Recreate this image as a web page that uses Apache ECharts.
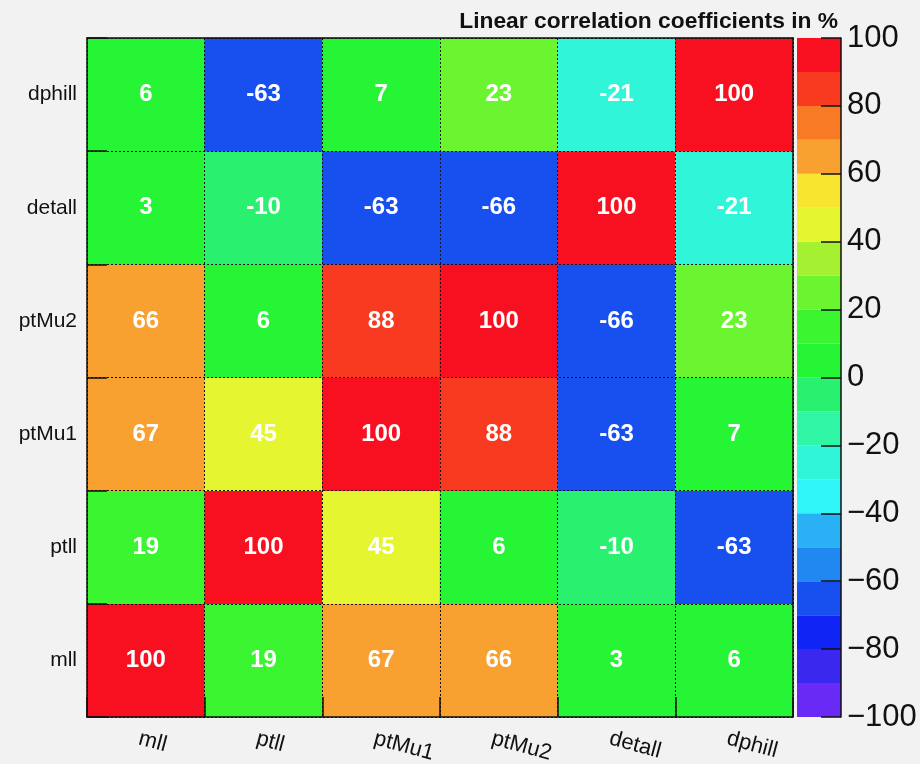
<!DOCTYPE html>
<html>
<head>
<meta charset="utf-8">
<script src="https://cdn.jsdelivr.net/npm/echarts@6/dist/echarts.min.js"></script>
<style>
  html, body { margin: 0; padding: 0; background: #f2f2f2; }
  #chart { width: 920px; height: 764px; }
</style>
</head>
<body>
<div id="chart"></div>
<script>
// Input variables (x from left to right, y from bottom to top)
const variables = ['mll', 'ptll', 'ptMu1', 'ptMu2', 'detall', 'dphill'];

// Linear correlation coefficients in %, one row per variable
const corrMll    = [100, 19, 67, 66, 3, 6];
const corrPtll   = [19, 100, 45, 6, -10, -63];
const corrPtMu1  = [67, 45, 100, 88, -63, 7];
const corrPtMu2  = [66, 6, 88, 100, -66, 23];
const corrDetall = [3, -10, -63, -66, 100, -21];
const corrDphill = [6, -63, 7, 23, -21, 100];
const corrRows = [corrMll, corrPtll, corrPtMu1, corrPtMu2, corrDetall, corrDphill];

// Palette: 20 contour bands from -100 to 100 (lower edges, colours bottom to top)
const bandLows = [-100, -90, -80, -70, -60, -50, -40, -30, -20, -10, 0, 10, 20, 30, 40, 50, 60, 70, 80, 90];
const bandColors = ['#6a2af5', '#3a28ee', '#1025f5', '#1850f0', '#2088f0', '#2ab0f5', '#30f5f8', '#30f5d8',
                    '#30f5a5', '#2af070', '#25f535', '#3af530', '#6af530', '#a5f030', '#e5f530', '#f8e530',
                    '#f8a030', '#f87a25', '#f83a20', '#f81020'];
const bandWidth = 10;

// Colour bar tick values
const scaleTicks = [-100, -80, -60, -40, -20, 0, 20, 40, 60, 80, 100];

const FONT = '"Liberation Sans", Arial, Helvetica, sans-serif';

const heatData = [];
corrRows.forEach((row, y) => row.forEach((v, x) => heatData.push([x, y, v])));

const pieces = bandLows.map((lo, i) => {
  const p = { gte: lo, color: bandColors[i] };
  if (i === bandLows.length - 1) p.lte = lo + bandWidth; else p.lt = lo + bandWidth;
  return p;
});

const barData = bandLows.map((lo, i) => ({ value: [lo, lo + bandWidth], itemStyle: { color: bandColors[i] } }));

const chart = echarts.init(document.getElementById('chart'), null, { renderer: 'canvas' });

const plotTop = 38, plotHeight = 679;

chart.setOption({
  backgroundColor: '#f2f2f2',
  animation: false,
  title: {
    text: 'Linear correlation coefficients in %',
    right: 82,
    top: 10,
    padding: 0,
    textStyle: { fontFamily: FONT, fontSize: 22.8, fontWeight: 'bold', color: '#111' }
  },
  grid: [
    { left: 87, top: plotTop, width: 706, height: plotHeight, outerBoundsMode: 'none', containLabel: false },
    { left: 797, top: plotTop, width: 44, height: plotHeight, outerBoundsMode: 'none', containLabel: false }
  ],
  visualMap: {
    type: 'piecewise',
    show: false,
    seriesIndex: 0,
    dimension: 2,
    pieces: pieces
  },
  xAxis: [
    {
      type: 'category', gridIndex: 0, data: variables, position: 'bottom', z: 5,
      axisLine: { show: true, lineStyle: { color: '#111', width: 1.5 } },
      axisTick: { show: true, inside: true, length: 20, lineStyle: { color: '#111', width: 1.5 } },
      splitLine: { show: true, lineStyle: { color: '#111', width: 1, type: [2, 2] } },
      axisLabel: {
        rotate: -15, align: 'left', verticalAlign: 'middle', margin: 23,
        padding: [0, 0, 0, -7],
        fontFamily: FONT, fontSize: 22, color: '#111'
      }
    },
    {
      type: 'category', gridIndex: 0, data: variables, position: 'top', z: 5,
      axisLine: { show: true, lineStyle: { color: '#111', width: 1.5 } },
      axisTick: { show: false }, axisLabel: { show: false }, splitLine: { show: false }
    },
    {
      type: 'value', gridIndex: 1, min: 0, max: 1, show: false
    }
  ],
  yAxis: [
    {
      type: 'category', gridIndex: 0, data: variables, position: 'left', z: 5,
      axisLine: { show: true, lineStyle: { color: '#111', width: 1.5 } },
      axisTick: { show: true, inside: true, length: 20, lineStyle: { color: '#111', width: 1.5 } },
      splitLine: { show: true, lineStyle: { color: '#111', width: 1, type: [2, 2] } },
      axisLabel: { margin: 10, fontFamily: FONT, fontSize: 21, color: '#111' }
    },
    {
      type: 'category', gridIndex: 0, data: variables, position: 'right', z: 5,
      axisLine: { show: true, lineStyle: { color: '#111', width: 1.5 } },
      axisTick: { show: false }, axisLabel: { show: false }, splitLine: { show: false }
    },
    {
      type: 'value', gridIndex: 1, position: 'right', min: -100, max: 100, interval: 20, z: 5,
      axisLine: { show: true, onZero: false, lineStyle: { color: '#111', width: 1.5 } },
      axisTick: { show: true, inside: true, length: 20, lineStyle: { color: '#111', width: 1.5 } },
      splitLine: { show: false },
      axisLabel: {
        margin: 6, fontFamily: FONT, fontSize: 31, color: '#111',
        formatter: v => (scaleTicks.indexOf(v) >= 0 ? String(v).replace('-', '\u2212') : '')
      }
    }
  ],
  series: [
    {
      type: 'heatmap',
      xAxisIndex: 0,
      yAxisIndex: 0,
      data: heatData,
      label: {
        show: true,
        formatter: p => String(p.value[2]),
        color: '#ffffff',
        fontFamily: FONT,
        fontWeight: 'bold',
        fontSize: 24
      },
      itemStyle: { borderWidth: 0 },
      emphasis: { disabled: true }
    },
    {
      type: 'custom',
      xAxisIndex: 2,
      yAxisIndex: 2,
      data: barData,
      encode: { y: [0, 1] },
      renderItem: function (params, api) {
        const topLeft = api.coord([0, api.value(1)]);
        const bottomRight = api.coord([1, api.value(0)]);
        return {
          type: 'rect',
          shape: {
            x: topLeft[0],
            y: topLeft[1],
            width: bottomRight[0] - topLeft[0],
            height: bottomRight[1] - topLeft[1]
          },
          style: { fill: api.visual('color') }
        };
      }
    }
  ]
});
</script>
</body>
</html>
